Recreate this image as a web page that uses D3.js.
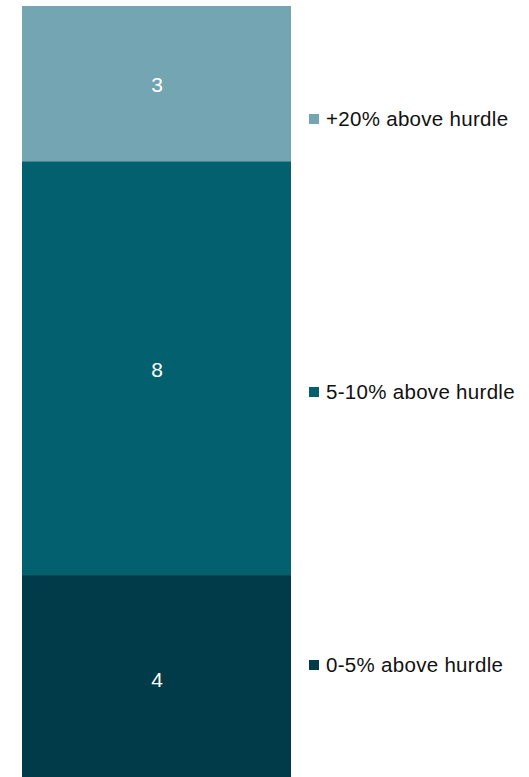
<!DOCTYPE html>
<html>
<head>
<meta charset="utf-8">
<script src="https://cdn.jsdelivr.net/npm/d3@7"></script>
<style>
  html, body { margin: 0; padding: 0; background: #fff; }
  svg { display: block; }
  text { font-family: "Liberation Sans", Arial, sans-serif; }
</style>
</head>
<body>
<svg id="chart" width="529" height="777"></svg>
<script>
// Stacked segments, listed from the bottom of the bar upward
const segmentNames = ["0-5% above hurdle", "5-10% above hurdle", "+20% above hurdle"];
const segmentValues = [4, 8, 3];
const segmentColors = ["#013a48", "#03616f", "#74a5b3"];
// Legend order, top to bottom
const legendOrder = ["+20% above hurdle", "5-10% above hurdle", "0-5% above hurdle"];

const svg = d3.select("#chart");

const total = d3.sum(segmentValues);
const y = d3.scaleLinear().domain([0, total]).range([782, 6]);
const x = d3.scaleBand().domain(["all"]).range([22, 291]).padding(0);

// Build stacked extents
let acc = 0;
const stacked = segmentValues.map((v, i) => {
  const d = { name: segmentNames[i], value: v, y0: acc, y1: acc + v, color: segmentColors[i] };
  acc += v;
  return d;
});

const bars = svg.append("g");
bars.selectAll("rect")
  .data(stacked)
  .join("rect")
  .attr("x", x("all"))
  .attr("width", x.bandwidth())
  .attr("y", d => y(d.y1))
  .attr("height", d => y(d.y0) - y(d.y1))
  .attr("fill", d => d.color);

bars.selectAll("text")
  .data(stacked)
  .join("text")
  .attr("x", x("all") + x.bandwidth() / 2 + 0.5)
  .attr("y", d => y((d.y0 + d.y1) / 2) + 1)
  .attr("dy", "0.36em")
  .attr("text-anchor", "middle")
  .attr("fill", "#ffffff")
  .attr("font-size", 21)
  .text(d => d.value);

// Legend: evenly spaced entries to the right of the bar
const legendY = d3.scalePoint().domain(legendOrder).range([119, 665]);
const colorOf = d3.scaleOrdinal().domain(segmentNames).range(segmentColors);

const legend = svg.append("g")
  .selectAll("g")
  .data(legendOrder)
  .join("g")
  .attr("transform", d => `translate(309,${legendY(d)})`);

legend.append("rect")
  .attr("x", 0)
  .attr("y", -5)
  .attr("width", 10)
  .attr("height", 10)
  .attr("fill", d => colorOf(d));

legend.append("text")
  .attr("x", 17)
  .attr("y", 0)
  .attr("dy", "0.36em")
  .attr("font-size", 20.5)
  .attr("letter-spacing", 0.3)
  .attr("fill", "#111")
  .text(d => d);
</script>
</body>
</html>
